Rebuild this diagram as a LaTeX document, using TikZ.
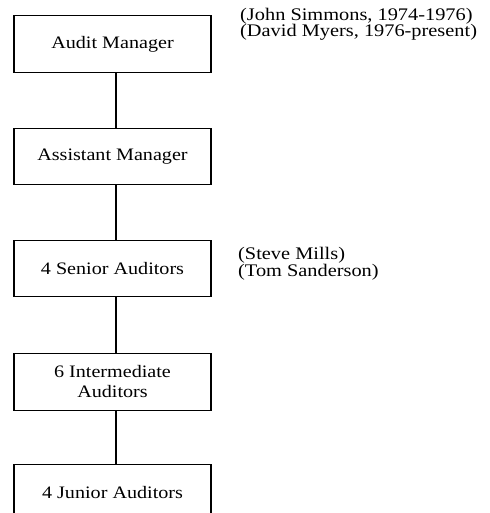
\documentclass[tikz,border=0pt]{standalone}
\usepackage{fontspec}
\setmainfont{Liberation Serif}[FakeStretch=1.15]
\begin{document}
\begin{tikzpicture}[x=1pt,y=1pt,
  post/.style={draw, line width=1.1pt, minimum width=197pt, minimum height=56.5pt,
    inner sep=0pt, align=center, font=\fontsize{17.5}{20}\selectfont},
  note/.style={anchor=west, align=left, inner sep=0pt,
    font=\fontsize{17.7}{16.5}\selectfont},
  link/.style={line width=1.3pt}]
\useasboundingbox (0,0) rectangle (489,-513);
\fill[white] (0,0) rectangle (489,-513);
\begin{scope}
\clip (0,0) rectangle (489,-513);
\node[post] (am) at (112.5,-44) {Audit Manager};
\node[post] (asst) at (112.5,-156.5) {Assistant Manager};
\node[post] (sen) at (112.5,-268.5) {4 Senior Auditors};
\node[post] (int) at (112.5,-382) {6 Intermediate\\Auditors};
\node[post] (jun) at (112.5,-493) {4 Junior Auditors};
\node[note] (amnote) at (240,-24.5) {(John Simmons, 1974-1976)\\(David Myers, 1976-present)};
\node[note] (sennote) at (238,-263.5) {(Steve Mills)\\(Tom Sanderson)};
\draw[link] ([xshift=3.5pt]am.south) -- ([xshift=3.5pt]asst.north);
\draw[link] ([xshift=3.5pt]asst.south) -- ([xshift=3.5pt]sen.north);
\draw[link] ([xshift=3.5pt]sen.south) -- ([xshift=3.5pt]int.north);
\draw[link] ([xshift=3.5pt]int.south) -- ([xshift=3.5pt]jun.north);
\end{scope}
\end{tikzpicture}
\end{document}
